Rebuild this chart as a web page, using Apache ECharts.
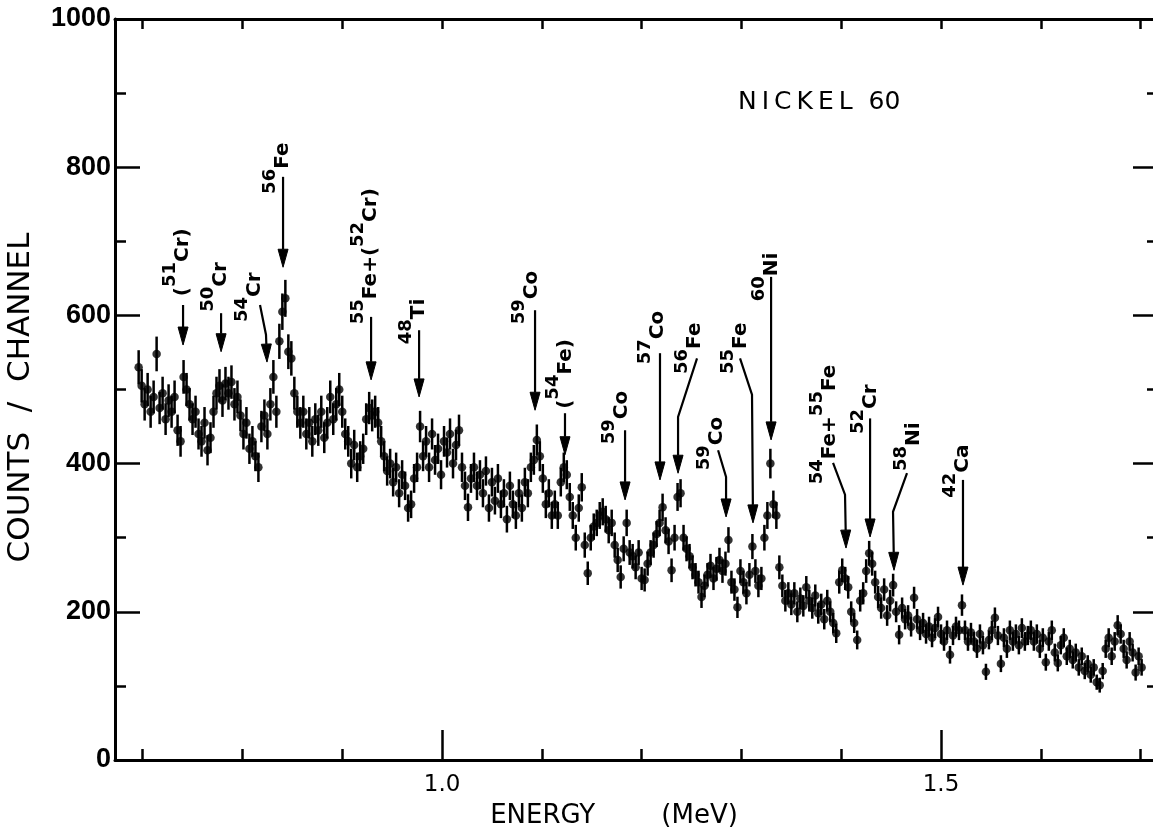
<!DOCTYPE html>
<html>
<head>
<meta charset="utf-8">
<script src="https://cdn.jsdelivr.net/npm/echarts@6/dist/echarts.min.js"></script>
<style>html,body{margin:0;padding:0;background:#fff}#c{width:1153px;height:827px}</style>
</head>
<body>
<div id="c"></div>
<script>
// ---- channel grid (MeV) ----
const E_START = 0.696;
const E_STEP = 0.003;

// ---- counts per channel ----
const countsA = [530,505,480,500,470, 490,548,475,495,460, 485,470,490,445,430, 517,500,480,460,470,
  440,430,455,418,435, 470,495,505,485,508, 495,510,480,490,465, 440,455,420,430,410,
  395,450,465,440,480, 517,470,565,605,623, 551,542,495,470,455, 470,440,455,430,460,
  445,470,435,455,490, 460,480,500,470,440];
const countsB = [430,400,425,395,410, 420,460,475,465,470, 455,430,410,390,400, 375,395,360,385,370,
  340,345,380,395,450, 410,430,395,440,405, 420,385,430,415,440, 400,425,445,395,370,
  341,380,395,370,385, 360,390,340,375,350, 380,345,360,325,370, 345,330,360,340,375,
  360,395,405,432,410, 380,345,360,330,345];
const countsC = [330,375,395,385,355, 330,300,340,368,290, 252,300,315,320,330, 335,325,310,320,290,
  270,247,285,320,280, 275,260,280,245,243, 265,280,290,305,320, 341,310,295,256,300,
  355,360,300,285,275, 260,250,240,220,235, 250,262,245,258,270, 255,265,297,240,230,
  206,255,240,225,250, 288,255,235,245,300];
const countsD = [330,400,345,330,260, 235,215,225,210,225, 200,218,208,233,215, 205,222,198,210,190,
  215,200,185,171,240, 256,245,233,200,185, 162,215,225,255,279, 265,240,220,205,230,
  195,215,236,200,169, 205,190,195,180,219, 190,175,185,170,180, 165,178,193,170,160,
  175,142,168,180,175, 209,175,160,172,160];
const countsE = [150,170,155,119,162, 175,192,168,130,165, 150,175,160,170,155, 178,160,168,175,160,
  170,150,165,132,160, 175,145,131,155,165, 140,150,135,145,125, 140,120,130,115,125,
  105,101,120,150,165, 140,160,182,170,150, 135,160,145,118,140, 125];

// ---- axis ticks / labels ----
const X_MIN = 0.6723, X_MAX = 1.7124;
const xMajorTicks = [1.0, 1.5];
const xMinorTicks = [0.7, 0.8, 0.9, 1.0, 1.1, 1.2, 1.3, 1.4, 1.5, 1.6, 1.7];
const yTickLabels = [0, 200, 400, 600, 800, 1000];

// ---- peak annotations: label, arrow path [energy, counts] tail->tip, label start ----
const annotations = [
  {label:'{m|(}{s|51}{m|Cr)}',        path:[[0.7405,614],[0.7405,560]],                 at:[0.7405,626]},
  {label:'{s|50}{m|Cr}',              path:[[0.7786,603],[0.7786,551]],                 at:[0.7786,605]},
  {label:'{s|54}{m|Cr}',              path:[[0.8176,614],[0.8236,574],[0.8246,537]],    at:[0.8126,591]},
  {label:'{s|56}{m|Fe}',              path:[[0.8407,787],[0.8407,665]],                 at:[0.8407,764]},
  {label:'{s|55}{m|Fe+(}{s|52}{m|Cr)}', path:[[0.9289,598],[0.9289,513]],               at:[0.9289,588]},
  {label:'{s|48}{m|Ti}',              path:[[0.9770,580],[0.9770,490]],                 at:[0.9770,561]},
  {label:'{s|59}{m|Co}',              path:[[1.0932,607],[1.0932,472]],                 at:[1.0902,588]},
  {label:'{m|(}{s|54}{m|Fe)}',        path:[[1.1232,468],[1.1232,412]],                 at:[1.1242,474]},
  {label:'{s|59}{m|Co}',              path:[[1.1834,445],[1.1834,351]],                 at:[1.1804,426]},
  {label:'{s|57}{m|Co}',              path:[[1.2184,549],[1.2184,378]],                 at:[1.2164,534]},
  {label:'{s|56}{m|Fe}',              path:[[1.2555,542],[1.2365,463],[1.2365,387]],    at:[1.2535,521]},
  {label:'{s|59}{m|Co}',              path:[[1.2766,418],[1.2846,382],[1.2846,328]],    at:[1.2756,391]},
  {label:'{s|55}{m|Fe}',              path:[[1.2986,542],[1.3106,493],[1.3116,320]],    at:[1.2996,521]},
  {label:'{s|60}{m|Ni}',              path:[[1.3297,652],[1.3297,432]],                 at:[1.3307,619]},
  {label:'{s|54}{m|Fe+}{s|55}{m|Fe}', path:[[1.3918,401],[1.4038,358],[1.4048,286]],    at:[1.3888,372]},
  {label:'{s|52}{m|Cr}',              path:[[1.4289,461],[1.4289,301]],                 at:[1.4299,440]},
  {label:'{s|58}{m|Ni}',              path:[[1.4659,387],[1.4519,335],[1.4529,256]],    at:[1.4729,390]},
  {label:'{s|42}{m|Ca}',              path:[[1.5220,378],[1.5220,236]],                 at:[1.5220,354]}
];

// ---- build data table from arrays ----
const counts = countsA.concat(countsB, countsC, countsD, countsE);
const points = counts.map((c, i) => [+(E_START + i * E_STEP).toFixed(4), c]);

const FONT = "'DejaVu Sans', sans-serif";
const chart = echarts.init(document.getElementById('c'), null, {renderer: 'canvas'});

const baseX = {type: 'value', min: X_MIN, max: X_MAX, splitLine: {show: false}, axisLabel: {show: false},
  axisTick: {show: false}, axisLine: {show: false}};

chart.setOption({
  animation: false,
  backgroundColor: '#fff',
  title: {text: 'N\u2009I\u2009C\u2009K\u2009E\u2009L  60', left: 733, top: 85,
    textStyle: {fontFamily: FONT, fontSize: 25, fontWeight: 'normal', color: '#000'}},
  grid: {left: 115, top: 19, right: 0, bottom: 67, outerBoundsMode: 'none', containLabel: false},
  xAxis: [
    Object.assign({}, baseX, {
      position: 'bottom',
      axisLine: {show: true, onZero: false, lineStyle: {color: '#000', width: 3}},
      axisTick: {show: true, inside: true, length: 30, customValues: xMajorTicks, lineStyle: {color: '#000', width: 2.5}},
      axisLabel: {show: true, customValues: xMajorTicks, formatter: v => v.toFixed(1), margin: 14,
        fontFamily: FONT, fontSize: 23, color: '#000'},
      name: 'ENERGY        (MeV)', nameLocation: 'middle', nameGap: 43,
      nameTextStyle: {fontFamily: FONT, fontSize: 26, color: '#000', padding: [0, 40, 0, 0]}
    }),
    Object.assign({}, baseX, {
      position: 'bottom',
      axisTick: {show: true, inside: true, length: 11, customValues: xMinorTicks, lineStyle: {color: '#000', width: 2.5}}
    }),
    Object.assign({}, baseX, {
      position: 'top',
      axisLine: {show: true, onZero: false, lineStyle: {color: '#000', width: 3}},
      axisTick: {show: true, inside: true, length: 10, customValues: xMinorTicks, lineStyle: {color: '#000', width: 2.5}}
    })
  ],
  yAxis: [
    {type: 'value', min: 0, max: 1000, interval: 200, position: 'left',
      axisLine: {show: true, onZero: false, lineStyle: {color: '#000', width: 3}},
      axisTick: {show: true, inside: true, length: 25, lineStyle: {color: '#000', width: 2.5}},
      minorTick: {show: true, splitNumber: 2, length: 11, lineStyle: {color: '#000', width: 2.5}},
      splitLine: {show: false}, minorSplitLine: {show: false},
      axisLabel: {show: true, customValues: yTickLabels, formatter: v => String(v), margin: 4,
        fontFamily: "'Liberation Sans', sans-serif", fontSize: 27, fontWeight: 'bold', color: '#000'},
      name: 'COUNTS  /  CHANNEL', nameLocation: 'middle', nameRotate: 90, nameGap: 79,
      nameTextStyle: {fontFamily: FONT, fontSize: 31, color: '#000', padding: [0, 16, 0, 0]}
    },
    {type: 'value', min: 0, max: 1000, interval: 200, position: 'right',
      axisLine: {show: false},
      axisTick: {show: true, inside: true, length: 20, lineStyle: {color: '#000', width: 2.5}},
      minorTick: {show: true, splitNumber: 2, length: 6, lineStyle: {color: '#000', width: 2.5}},
      splitLine: {show: false}, minorSplitLine: {show: false}, axisLabel: {show: false}
    }
  ],
  series: [
    {type: 'custom', xAxisIndex: 0, yAxisIndex: 0, data: points, encode: {x: 0, y: 1}, silent: true,
      renderItem: function (params, api) {
        const x = api.value(0), y = api.value(1), e = Math.sqrt(y);
        const a = api.coord([x, y + e]), b = api.coord([x, y - e]);
        return {type: 'line', shape: {x1: a[0], y1: a[1], x2: b[0], y2: b[1]},
          style: {stroke: '#000', lineWidth: 2.5}};
      }},
    {type: 'scatter', xAxisIndex: 0, yAxisIndex: 0, data: points, symbol: 'circle', symbolSize: 8.5,
      itemStyle: {color: '#000'}, silent: true}
  ]
});

const RICH = {
  m: {fontFamily: FONT, fontSize: 20, fontWeight: 'bold', lineHeight: 20, verticalAlign: 'bottom', fill: '#000'},
  s: {fontFamily: FONT, fontSize: 18, fontWeight: 'bold', lineHeight: 18, padding: [0, 0, 14, 0], verticalAlign: 'bottom', fill: '#000'}
};

function buildGraphics() {
  const g = [];
  const px = p => chart.convertToPixel({xAxisIndex: 0, yAxisIndex: 0}, p);
  annotations.forEach(a => {
    const pts = a.path.map(px);
    const n = pts.length;
    const tip = pts[n - 1], prev = pts[n - 2];
    const dx = tip[0] - prev[0], dy = tip[1] - prev[1], L = Math.hypot(dx, dy);
    const ux = dx / L, uy = dy / L;
    const HL = 18, HW = 5;
    const base = [tip[0] - ux * HL, tip[1] - uy * HL];
    const shaft = pts.slice(0, n - 1).concat([base]);
    g.push({type: 'polyline', shape: {points: shaft}, style: {stroke: '#000', lineWidth: 2.2, fill: null}, silent: true});
    g.push({type: 'polygon', shape: {points: [tip, [base[0] - uy * HW, base[1] + ux * HW], [base[0] + uy * HW, base[1] - ux * HW]]},
      style: {fill: '#000', stroke: '#000', lineWidth: 1}, silent: true});
    const lp = px(a.at);
    g.push({type: 'text', x: lp[0] + 10, y: lp[1], rotation: Math.PI / 2, silent: true,
      style: {text: a.label, rich: RICH, align: 'left', verticalAlign: 'bottom', fill: '#000',
        fontFamily: FONT, fontSize: 20}});
  });
  chart.setOption({graphic: g});
}
buildGraphics();
</script>
</body>
</html>
